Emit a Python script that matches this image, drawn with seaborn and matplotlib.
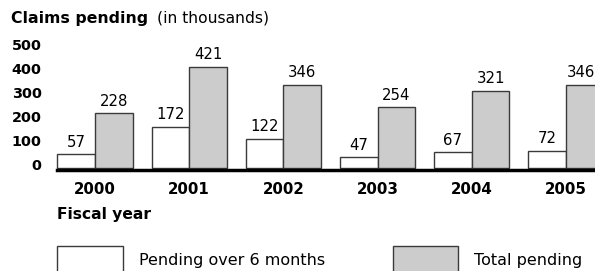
import matplotlib
matplotlib.use("Agg")
import matplotlib.pyplot as plt
import matplotlib.transforms as mtransforms
import seaborn as sns
import pandas as pd

years = ["2000", "2001", "2002", "2003", "2004", "2005"]
pending_over_6 = [57, 172, 122, 47, 67, 72]
total_pending = [228, 421, 346, 254, 321, 346]
series_names = ["Pending over 6 months", "Total pending"]
yticks = [0, 100, 200, 300, 400, 500]

df = pd.DataFrame({
    "year": years * 2,
    "value": pending_over_6 + total_pending,
    "series": [series_names[0]] * len(years) + [series_names[1]] * len(years),
})

sns.set_style("white")
plt.rcParams["font.family"] = ["DejaVu Sans"]
plt.rcParams["font.weight"] = "bold"
plt.rcParams["text.color"] = "black"
plt.rcParams["xtick.color"] = "black"
plt.rcParams["ytick.color"] = "black"
plt.rcParams["axes.labelcolor"] = "black"
plt.rcParams["xtick.labelsize"] = 10.8
plt.rcParams["ytick.labelsize"] = 10.4

W, H = 595, 271
fig = plt.figure(figsize=(W / 100, H / 100), dpi=100)
left_px, base_px, top_px = 57.3, 168.0, 47.5
width_px = 5.8 * 94.2
ax = fig.add_axes([left_px / W, 1 - base_px / H, width_px / W, (base_px - top_px) / H])

sns.barplot(data=df, x="year", y="value", hue="series", order=years,
            hue_order=series_names, palette=["white", "#cccccc"],
            edgecolor="#3a3a3a", linewidth=1.0, width=0.8, saturation=1,
            ax=ax, legend=True)

for p in ax.patches:
    p.set_clip_on(False)

label_sets = []
for cont in ax.containers:
    label_sets.append(ax.bar_label(cont, padding=3, fontsize=10.7,
                                   color="black", fontweight="normal"))
# last label sits against the right edge in the reference
label_sets[-1][-1].xyann = (-3, 3)

handles, labels = ax.get_legend_handles_labels()
if ax.legend_ is not None:
    ax.legend_.remove()

ax.set_xlim(-0.4, 5.4)
ax.set_ylim(0, 500)
ax.set_yticks(yticks)
ax.tick_params(axis="y", length=0, pad=11.2, labelsize=10.4)
ax.tick_params(axis="x", length=0, pad=9.0, labelsize=10.8)
off = mtransforms.ScaledTranslation(0, 3.5 / 100, fig.dpi_scale_trans)
for lab in ax.get_yticklabels():
    lab.set_transform(lab.get_transform() + off)

ax.set_ylabel("")
ax.set_xlabel("Fiscal year", fontsize=11.2, fontweight="bold", loc="left",
              color="black")
ax.xaxis.label.set_va("center")
ax.xaxis.set_label_coords(0, -(215 - base_px) / (base_px - top_px))

for s in ["top", "right", "left"]:
    ax.spines[s].set_visible(False)
ax.spines["bottom"].set_color("black")
ax.spines["bottom"].set_linewidth(2.5)
ax.spines["bottom"].set_position(("outward", 1.4))
ax.grid(False)

# title
fig.text(11 / W, 1 - 18.3 / H, "Claims pending", fontsize=11.3, fontweight="bold",
         va="center", ha="left", color="black")
fig.text(156.7 / W, 1 - 18.3 / H, "(in thousands)", fontsize=11.2,
         fontweight="normal", va="center", ha="left", color="black")

# legends
fs = 11.5
fs_px = fs * 100 / 72
common = dict(frameon=False, prop={"size": fs, "weight": "normal"},
              handlelength=65.4 / fs_px,
              handleheight=2.32, handletextpad=1.0, borderpad=0,
              borderaxespad=0, loc="upper left", labelcolor="black",
              bbox_transform=fig.transFigure)
leg1 = ax.legend([handles[0]], [labels[0]],
                 bbox_to_anchor=(57.3 / W, 1 - 246 / H), **common)
ax.add_artist(leg1)
leg2 = ax.legend([handles[1]], [labels[1]],
                 bbox_to_anchor=(392.5 / W, 1 - 246 / H), **common)
for leg in (leg1, leg2):
    for h in leg.legend_handles:
        h.set_edgecolor("#3a3a3a")
        h.set_linewidth(1.0)
        h.set_clip_on(False)

fig.savefig("out.png", dpi=100)
